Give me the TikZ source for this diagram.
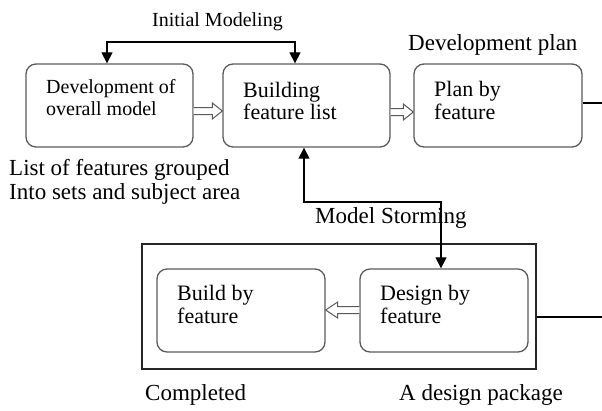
\documentclass[tikz,border=0pt]{standalone}
\usepackage{fontspec}
\setmainfont{Liberation Serif}
\usetikzlibrary{arrows.meta,calc}
\definecolor{boxgrey}{HTML}{5A5A5A}
\tikzset{
  rbox/.style={draw=boxgrey, line width=1.3pt, rounded corners=10pt, inner sep=0pt, minimum height=83pt},
  outerbox/.style={draw=black!85, line width=1.1pt, inner sep=0pt},
  conn/.style={draw=black, line width=1.2pt},
  tri/.style={{Triangle[length=11pt,width=11pt]}-{Triangle[length=11pt,width=11pt]}},
  harrow/.style={draw=boxgrey, line width=1pt, fill=white},
  lbl/.style={anchor=base west, inner sep=0pt, font=\fontsize{23}{24}\selectfont},
  blbl/.style={anchor=base west, inner sep=0pt, font=\fontsize{22}{23}\selectfont},
  slbl/.style={anchor=base west, inner sep=0pt, font=\fontsize{20}{21}\selectfont},
}
\begin{document}
\begin{tikzpicture}[x=1pt,y=-1pt]
\useasboundingbox (0,0) rectangle (602,410);
% boxes
\node[rbox, minimum width=167pt] (b1) at (109.5,105.5) {};
\node[rbox, minimum width=167pt] (b2) at (306.5,105.5) {};
\node[rbox, minimum width=168pt] (b3) at (498,105.5) {};
\node[outerbox, minimum width=394pt, minimum height=125pt] (ob) at (339,306.5) {};
\node[rbox, minimum width=168pt] (bb) at (241,310.5) {};
\node[rbox, minimum width=168pt] (db) at (444,310.5) {};
% box texts
\node[slbl] (t1a) at (46,93) {Development of};
\node[slbl] (t1b) at (46,115) {overall model};
\node[blbl] (t2a) at (243,97) {Building};
\node[blbl] (t2b) at (243,119) {feature list};
\node[blbl] (t3a) at (434,96) {Plan by};
\node[blbl] (t3b) at (434,119) {feature};
\node[blbl] (t4a) at (177,300) {Build by};
\node[blbl] (t4b) at (177,323) {feature};
\node[blbl] (t5a) at (380,300) {Design by};
\node[blbl] (t5b) at (380,323) {feature};
% free labels
\node[slbl] (im) at (152,26) {Initial Modeling};
\node[lbl] (dp) at (408,50) {Development plan};
\node[lbl] (ms) at (315,223) {Model Storming};
\node[lbl] (lf1) at (9,175) {List of features grouped};
\node[lbl] (lf2) at (9,199) {Into sets and subject area};
\node[lbl] (cp) at (145,400) {Completed};
\node[lbl] (adp) at (399,400) {A design package};
% connectors
\coordinate (im1) at (107,42);
\coordinate (im2) at (295,42);
\draw[conn, tri] (b1.north -| im1) |- (im2) -- (b2.north -| im2);
\coordinate (ms1) at (304,202);
\coordinate (ms2) at (441,202);
\draw[conn, tri] (b2.south -| ms1) |- (ms2) -- (db.north -| ms2);
\coordinate (e1) at (602,103);
\coordinate (e2) at (602,317);
\draw[conn] (b3.east |- e1) -- (e1);
\draw[conn] (ob.east |- e2) -- (e2);
% hollow arrows
\draw[harrow] let \p1=(b1.east), \p2=(b2.west), \n1={\y1-5.5pt} in
  (\x1,\n1+3.5pt) -- (\x2-10pt,\n1+3.5pt) -- (\x2-10pt,\n1+8pt) -- (\x2,\n1)
  -- (\x2-10pt,\n1-8pt) -- (\x2-10pt,\n1-3.5pt) -- (\x1,\n1-3.5pt);
\draw[harrow] let \p1=(b2.east), \p2=(b3.west), \n1={\y1-6.5pt} in
  (\x1,\n1+3.5pt) -- (\x2-10pt,\n1+3.5pt) -- (\x2-10pt,\n1+8pt) -- (\x2,\n1)
  -- (\x2-10pt,\n1-8pt) -- (\x2-10pt,\n1-3.5pt) -- (\x1,\n1-3.5pt);
\draw[harrow] let \p1=(db.west), \p2=(bb.east), \n1={\y1+0.5pt} in
  (\x1,\n1+3.5pt) -- (\x2+12pt,\n1+3.5pt) -- (\x2+12pt,\n1+8pt) -- (\x2,\n1)
  -- (\x2+12pt,\n1-8pt) -- (\x2+12pt,\n1-3.5pt) -- (\x1,\n1-3.5pt);
\end{tikzpicture}
\end{document}
